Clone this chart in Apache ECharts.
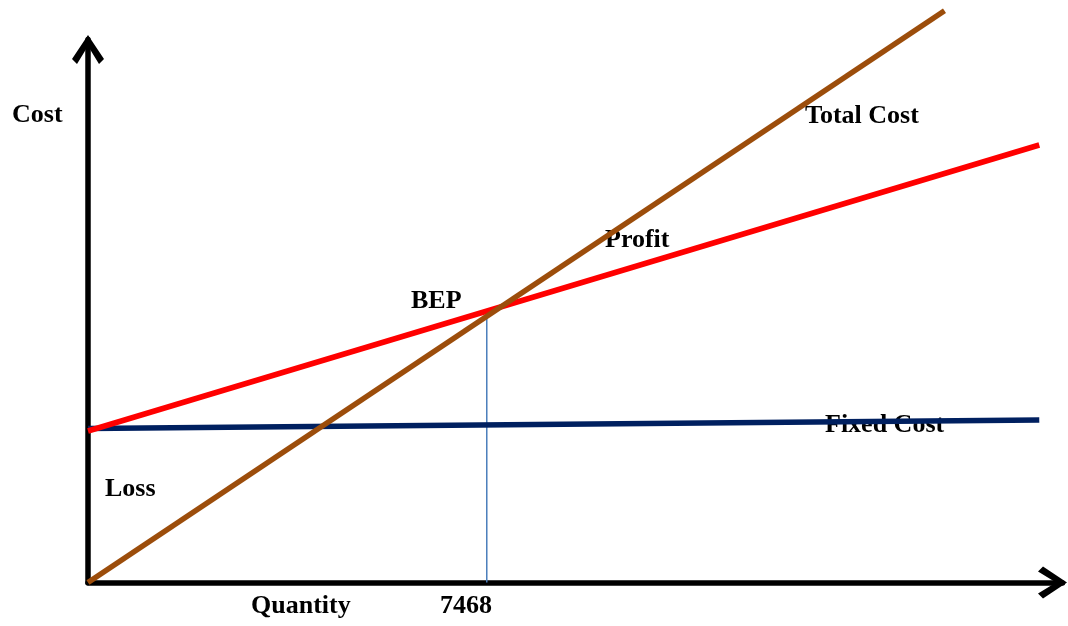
<!DOCTYPE html>
<html>
<head>
<meta charset="utf-8">
<script src="https://cdn.jsdelivr.net/npm/echarts@6/dist/echarts.min.js"></script>
<style>html,body{margin:0;padding:0;background:#fff}#c{width:1068px;height:626px}</style>
</head>
<body>
<div id="c"></div>
<script>
// ---- data (quantity, cost) ----
const X_MAX = 18250;
const Y_MAX = 100000;
const BEP_QTY = 7468;
const totalCostQty = [0, 16040];
const totalCostVal = [0, 105300];
const profitQty = [0, 17815];
const profitVal = [27900, 80570];
const fixedQty = [0, 17815];
const fixedVal = [28360, 29930];
const bepQty = [BEP_QTY, BEP_QTY];
const bepVal = [0, 49600];
const labelTexts = ['Cost', 'Total Cost', 'Profit', 'BEP', 'Fixed Cost', 'Loss', 'Quantity', String(BEP_QTY)];

const pairs = (xs, ys) => xs.map((x, i) => [x, ys[i]]);

const chevron = 'path://M16,0 L32,24 L27,29 L16,11 L5,29 L0,24 Z';
const font = 'bold 26px "Liberation Serif", "Times New Roman", serif';
const labelPos = [
  [12, 115], [805, 116.5], [605, 240], [411, 301.5],
  [825, 425.5], [105, 489], [251, 606], [440, 606]
];

const chart = echarts.init(document.getElementById('c'), null, {renderer: 'canvas'});
chart.setOption({
  animation: false,
  backgroundColor: '#fff',
  grid: {left: 88, top: 39.5, right: 5.5, bottom: 43.5, containLabel: false},
  xAxis: {
    type: 'value', min: 0, max: X_MAX,
    axisLine: {show: true, lineStyle: {color: '#000', width: 5.5},
      symbol: ['none', chevron], symbolSize: [32, 29], symbolOffset: [0, -10]},
    axisTick: {show: false}, axisLabel: {show: false}, splitLine: {show: false}
  },
  yAxis: {
    type: 'value', min: 0, max: Y_MAX,
    axisLine: {show: true, lineStyle: {color: '#000', width: 5.5},
      symbol: ['none', chevron], symbolSize: [32, 29], symbolOffset: [0, -10]},
    axisTick: {show: false}, axisLabel: {show: false}, splitLine: {show: false}
  },
  graphic: labelTexts.map((t, i) => ({
    type: 'text', z: 0,
    style: {text: t, x: labelPos[i][0], y: labelPos[i][1], font: font, fill: '#000',
      textAlign: 'left', textVerticalAlign: 'middle'}
  })),
  series: [
    {type: 'line', data: pairs(bepQty, bepVal), symbol: 'none', clip: false, z: 2,
      lineStyle: {color: '#4A7EBB', width: 1.5}},
    {type: 'line', data: pairs(fixedQty, fixedVal), symbol: 'none', clip: false, z: 3,
      lineStyle: {color: '#002060', width: 5.5}},
    {type: 'line', data: pairs(profitQty, profitVal), symbol: 'none', clip: false, z: 4,
      lineStyle: {color: '#FF0000', width: 5.5}},
    {type: 'line', data: pairs(totalCostQty, totalCostVal), symbol: 'none', clip: false, z: 5,
      lineStyle: {color: '#9C4D0B', width: 5.5}}
  ]
});
</script>
</body>
</html>
